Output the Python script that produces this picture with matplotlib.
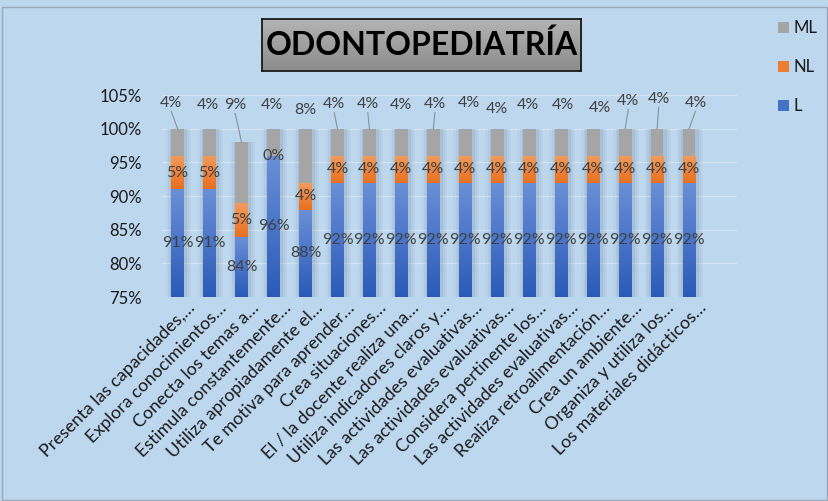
import matplotlib.pyplot as plt
import numpy as np
from matplotlib.patches import Rectangle
from matplotlib.colors import LinearSegmentedColormap
from matplotlib.transforms import ScaledTranslation

plt.rcParams['font.family'] = ['Lato', 'DejaVu Sans']

items = ["Presenta las capacidades,…", "Explora conocimientos…", "Conecta los temas a…",
         "Estimula constantemente…", "Utiliza apropiadamente el…", "Te motiva para aprender…",
         "Crea situaciones…", "El / la docente realiza una…", "Utiliza indicadores claros y…",
         "Las actividades evaluativas…", "Las actividades evaluativas…", "Considera pertinente los…",
         "Las actividades evaluativas…", "Realiza retroalimentación…", "Crea un ambiente…",
         "Organiza y utiliza los…", "Los materiales didácticos…"]
L = [91, 91, 84, 96, 88, 92, 92, 92, 92, 92, 92, 92, 92, 92, 92, 92, 92]
NL = [5, 5, 5, 0, 4, 4, 4, 4, 4, 4, 4, 4, 4, 4, 4, 4, 4]
ML = [4, 4, 9, 4, 8, 4, 4, 4, 4, 4, 4, 4, 4, 4, 4, 4, 4]

# where the ML labels sit (x shift in bars, height in %) and which get a leader line
ml_dx = [-0.2, -0.05, -0.2, -0.05, 0, -0.1, -0.05, 0, 0.05, 0.1, 0, -0.05, 0.05, 0.2, 0.1, 0.05, 0.2]
ml_y = [103.9, 103.6, 103.6, 103.6, 102.8, 103.7, 103.7, 103.6, 103.7, 103.9, 102.9, 103.6, 103.6, 103.1, 104.2, 104.5, 103.9]
ml_line = [1, 0, 1, 0, 0, 1, 1, 0, 1, 0, 0, 0, 0, 0, 1, 1, 1]

bg = '#BDD7EE'
txt = '#404040'
fig = plt.figure(figsize=(8.29, 5.01), dpi=100, facecolor=bg)
ax = fig.add_axes([0.195, 0.407, 0.694, 0.403])
ax.set_facecolor(bg)

x = np.arange(len(items))
L = np.array(L, float)
NL = np.array(NL, float)
ML = np.array(ML, float)
w = 0.4

# soft shadow around the columns
for k, a in [(0.8, 0.05), (0.66, 0.07), (0.54, 0.1)]:
    ax.bar(x + 0.03, L + NL + ML, width=k, color='#56687c', alpha=a, zorder=1, linewidth=0)

blue_cm = LinearSegmentedColormap.from_list('b', ['#2A5BB8', '#6A8FD8'])
orange_cm = LinearSegmentedColormap.from_list('o', ['#E8701F', '#F39A5C'])
grad = np.linspace(0, 1, 64).reshape(-1, 1)

bl = ax.bar(x, L, width=w, color='#4472C4', zorder=2, label='L')
bn = ax.bar(x, NL, width=w, bottom=L, color='#ED7D31', zorder=2, label='NL')
bm = ax.bar(x, ML, width=w, bottom=L + NL, color='#A5A5A5', zorder=2, label='ML')

for bars, cm in [(bl, blue_cm), (bn, orange_cm)]:
    for p in bars:
        if p.get_height() <= 0:
            continue
        x0, y0 = p.get_x(), max(p.get_y(), 75)
        im = ax.imshow(grad, cmap=cm, aspect='auto', origin='lower', zorder=2.5,
                       extent=(x0, x0 + p.get_width(), y0, p.get_y() + p.get_height()))
        im.set_clip_path(p)

ax.set_ylim(75, 105)
ax.set_xlim(-0.5, 17.5)
ax.set_yticks(np.arange(75, 106, 5))
ax.set_yticklabels([f'{v}%' for v in range(75, 106, 5)], fontsize=12, color='#1a1a1a')
ax.grid(axis='y', color='#D6E3F0', linewidth=1, zorder=0)
ax.set_axisbelow(True)
for s in ax.spines.values():
    s.set_visible(False)
ax.tick_params(length=0, pad=14)
ax.tick_params(axis='x', pad=2)
ax.set_xticks(x)
ax.set_xticklabels(items, rotation=45, ha='right', rotation_mode='anchor', fontsize=12.8, color='#1a1a1a')
for lbl in ax.get_xticklabels():
    lbl.set_transform(lbl.get_transform() + ScaledTranslation(0.09, 0, fig.dpi_scale_trans))

# value labels
fs = 11.5
for i in x:
    ax.text(i, (75 + L[i]) / 2, f'{L[i]:.0f}%', ha='center', va='center', fontsize=fs, color=txt, zorder=4)
    ax.text(i, L[i] + NL[i] / 2, f'{NL[i]:.0f}%', ha='center', va='center', fontsize=fs, color=txt, zorder=4)
    top = L[i] + NL[i] + ML[i]
    lx, ly = i + ml_dx[i], ml_y[i]
    ax.text(lx, ly, f'{ML[i]:.0f}%', ha='center', va='center', fontsize=fs, color=txt, zorder=4, clip_on=False)
    if ml_line[i]:
        ax.plot([lx, i], [ly - 1.3, top], color='#8a9099', linewidth=0.8, zorder=3, clip_on=False)

h = [bm, bn, bl]
ax.legend(h, ['ML', 'NL', 'L'], loc='upper left', bbox_to_anchor=(0.92, 0.99), bbox_transform=fig.transFigure,
          frameon=False, fontsize=12, labelspacing=1.38, handlelength=0.65, handleheight=0.65,
          handletextpad=0.3, labelcolor='#1a1a1a')

# title box with a grey gradient
tax = fig.add_axes([0.316, 0.858, 0.385, 0.104])
tax.imshow(np.linspace(1, 0, 64).reshape(-1, 1), cmap=LinearSegmentedColormap.from_list('g', ['#8C8C8C', '#B4B4B4']),
           aspect='auto', extent=(0, 1, 0, 1))
tax.set_xticks([])
tax.set_yticks([])
for s in tax.spines.values():
    s.set_color('#1a1a1a')
    s.set_linewidth(1.3)
tax.text(0.5, 0.5, 'ODONTOPEDIATRÍA', ha='center', va='center', fontsize=23, fontweight='bold',
         color='black', transform=tax.transAxes)

# thin outer frame
fig.patches.append(Rectangle((0.002, 0.002), 0.996, 0.985, transform=fig.transFigure, fill=False,
                             edgecolor='#9aa8b6', linewidth=1))

fig.savefig('out.png', dpi=100, facecolor=bg)
